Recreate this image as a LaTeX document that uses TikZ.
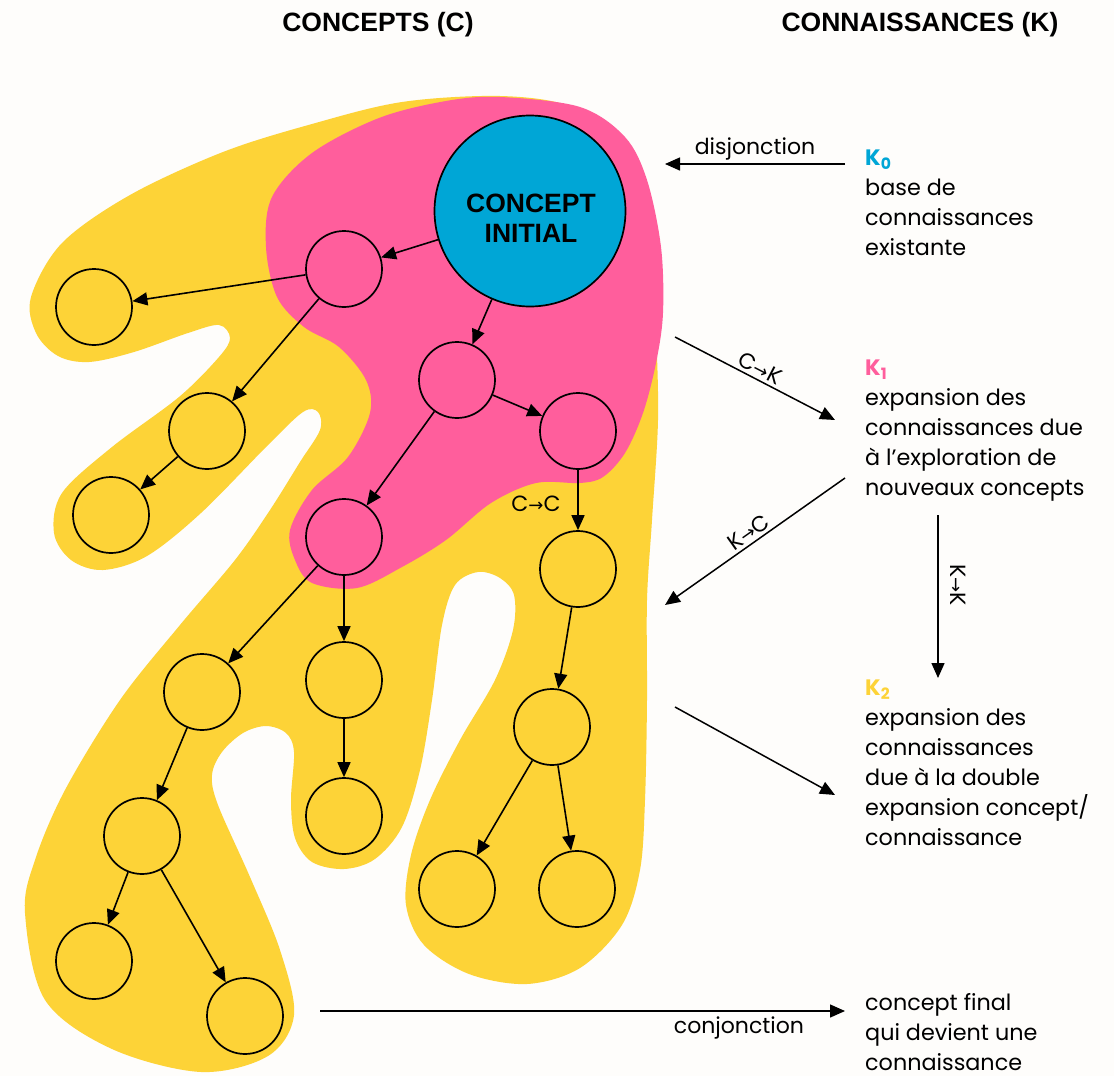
\documentclass[tikz,border=0pt]{standalone}
\usepackage{fontspec}
\setmainfont{Poppins}
\newfontfamily\titlefont{Liberation Sans}
\newfontfamily\symfont{DejaVu Sans}
\usetikzlibrary{arrows.meta}
\definecolor{cyel}{HTML}{FDD337}
\definecolor{cpink}{HTML}{FF5E9C}
\definecolor{cblue}{HTML}{00A6D6}
\definecolor{cbg}{HTML}{FEFDFB}
\newcommand{\smallarr}{{\symfont\fontsize{18}{18}\selectfont →}}
\begin{document}
\begin{tikzpicture}[x=1pt,y=-1pt,
  cnode/.style={circle,draw,line width=1.7pt,minimum size=76pt,inner sep=0pt},
  edge/.style={-{Triangle[length=15pt,width=13pt]},line width=1.6pt},
  rel/.style={-{Triangle[length=15pt,width=13pt]},line width=1.5pt},
  body/.style={font=\fontsize{22.3}{30}\selectfont,inner sep=0pt},
  lab/.style={font=\fontsize{22}{24}\selectfont,inner sep=2pt},
  title/.style={font=\titlefont\bfseries\fontsize{26.5}{30}\selectfont,inner sep=0pt}]
\fill[cbg] (0,0) rectangle (1114,1076);
\useasboundingbox (0,0) rectangle (1114,1076);
% yellow blob
\fill[cyel] plot[smooth cycle,tension=0.55] coordinates {
(500,96) (570,106) (618,138) (642,190) (652,260) (656,330) (658,420) (652,520) (647,600) (647,700) (645,800) (640,870) (622,925) (580,968) (527,984) (469,974) (424,945) (406,905) (411,855) (430,800) (460,740) (495,680) (513,630) (514,595) (500,578) (478,572) (455,585) (442,625) (432,700) (420,770) (402,827) (375,859) (344,869) (312,862) (295,838) (291,800) (294,752) (286,733) (266,726) (243,733) (222,752) (212,775) (218,805) (250,877) (280,950) (294,1015) (268,1056) (201,1072) (112,1049) (45,1000) (25,913) (35,860) (65,790) (120,700) (180,625) (235,560) (270,510) (300,462) (320,430) (318,412) (303,412) (268,445) (201,513) (147,556) (103,570) (71,560) (54,533) (62,493) (112,447) (179,397) (219,357) (230,338) (219,325) (188,333) (134,352) (89,362) (58,356) (36,333) (31,297) (62,243) (130,195) (223,152) (312,124) (402,102)};
% pink blob
\fill[cpink] plot[smooth cycle,tension=0.55] coordinates {
(500,97) (580,107) (625,137) (647,180) (661,247) (663,313) (656,363) (643,413) (625,453) (603,477) (580,483) (536,483) (491,503) (446,540) (402,567) (357,588) (312,583) (295,560) (290,530) (312,490) (348,457) (370,413) (366,380) (339,347) (304,327) (277,297) (266,247) (272,197) (312,153) (379,118) (446,101)};
% titles
\node[title,anchor=base] (tc) at (378,31) {CONCEPTS (C)};
\node[title,anchor=base] (tk) at (920,31) {CONNAISSANCES (K)};
% concept nodes
\node[cnode,fill=cblue,minimum size=191pt] (ci) at (530,211) {};
\node[align=center,inner sep=0pt,font=\titlefont\bfseries\fontsize{26.5}{30}\selectfont] (cit) at (531,218) {CONCEPT\\INITIAL};
\node[cnode] (p1) at (344,269) {};
\node[cnode] (y1) at (94,307) {};
\node[cnode] (y2) at (207,431) {};
\node[cnode] (y3) at (111,515) {};
\node[cnode] (p2) at (457,380) {};
\node[cnode] (p3) at (578,431) {};
\node[cnode] (p4) at (344,537) {};
\node[cnode] (y4) at (578,569) {};
\node[cnode] (y5) at (202,692) {};
\node[cnode] (y6) at (344,680) {};
\node[cnode] (y7) at (344,816) {};
\node[cnode] (y8) at (552,727) {};
\node[cnode] (y9) at (142,836) {};
\node[cnode] (y10) at (457,889) {};
\node[cnode] (y11) at (577,889) {};
\node[cnode] (y12) at (94,961) {};
\node[cnode] (y13) at (245,1016) {};
\draw[edge] (ci) -- (p1);
\draw[edge] (ci) -- (p2);
\draw[edge] (p1) -- (y1);
\draw[edge] (p1) -- (y2);
\draw[edge] (y2) -- (y3);
\draw[edge] (p2) -- (p3);
\draw[edge] (p2) -- (p4);
\draw[edge] (p3) -- (y4);
\draw[edge] (p4) -- (y5);
\draw[edge] (p4) -- (y6);
\draw[edge] (y6) -- (y7);
\draw[edge] (y4) -- (y8);
\draw[edge] (y5) -- (y9);
\draw[edge] (y9) -- (y12);
\draw[edge] (y9) -- (y13);
\draw[edge] (y8) -- (y10);
\draw[edge] (y8) -- (y11);
\node[lab,anchor=base] (cc) at (536,511) {C\smallarr C};
% right side
\coordinate (dj1) at (845,164);
\coordinate (dj2) at (665,164);
\draw[rel] (dj1) -- node[lab,above=1pt] (djl) {disjonction} (dj2);
\coordinate (ck1) at (675,337);
\coordinate (ck2) at (835,420);
\draw[rel] (ck1) -- node[lab,sloped,above=1pt] (ckl) {C\smallarr K} (ck2);
\coordinate (kc1) at (845,478);
\coordinate (kc2) at (665,605);
\draw[rel] (kc1) -- node[lab,sloped,above=1pt] (kcl) {K\smallarr C} (kc2);
\coordinate (kk1) at (938,515);
\coordinate (kk2) at (938,678);
\draw[rel] (kk1) -- (kk2);
\node[lab,rotate=-90] (kkl) at (958,585) {K\smallarr K};
\coordinate (e1) at (675,707);
\coordinate (e2) at (835,795);
\draw[rel] (e1) -- (e2);
\coordinate (cj1) at (320,1011);
\coordinate (cj2) at (845,1011);
\draw[rel] (cj1) -- node[lab,pos=0.798,below=3pt] (cjl) {conjonction} (cj2);
% K texts (base anchor = last line baseline)
\node[body,anchor=base west,align=left] (k0) at (865,255) {\textcolor{cblue}{\bfseries K\textsubscript{0}}\\base de\\connaissances\\existante};
\node[body,anchor=base west,align=left] (k1) at (865,495) {\textcolor{cpink}{\bfseries K\textsubscript{1}}\\expansion des\\connaissances due\\à l’exploration de\\nouveaux concepts};
\node[body,anchor=base west,align=left] (k2) at (865,845) {\textcolor{cyel}{\bfseries K\textsubscript{2}}\\expansion des\\connaissances\\due à la double\\expansion concept/\\connaissance};
\node[body,anchor=base west,align=left] (kf) at (865,1070) {concept final\\qui devient une\\connaissance};
\end{tikzpicture}
\end{document}
